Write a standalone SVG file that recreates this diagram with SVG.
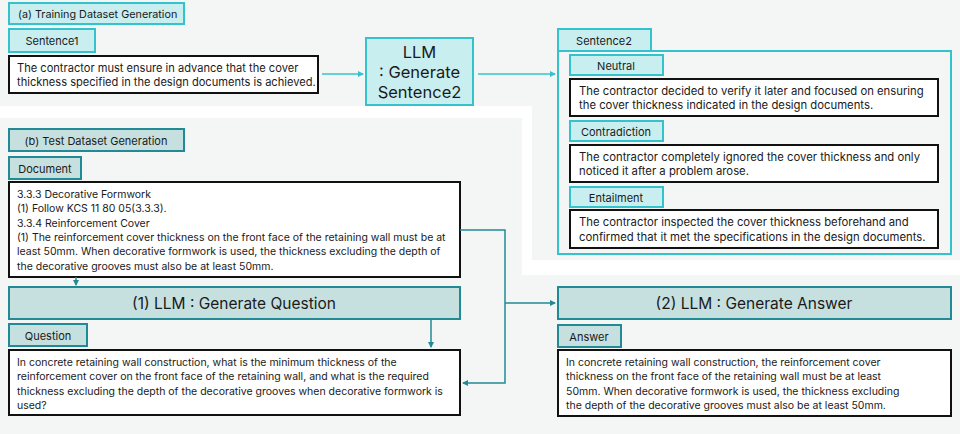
<svg xmlns="http://www.w3.org/2000/svg" width="960" height="434" viewBox="0 0 960 434">
<defs>
<marker id="ac" markerWidth="6" markerHeight="6" refX="5" refY="3" orient="auto" markerUnits="userSpaceOnUse"><path d="M0,0 L6,3 L0,6 z" fill="#34c3cc"/></marker>
<marker id="at" markerWidth="6" markerHeight="6" refX="5" refY="3" orient="auto" markerUnits="userSpaceOnUse"><path d="M0,0 L6,3 L0,6 z" fill="#228a94"/></marker>
</defs>
<style>
text{font-family:Inter,"Noto Sans",sans-serif;fill:#1a1a1a;font-size:11px}
.ca{fill:#c9eef0;stroke:#34c3cc;stroke-width:2}
.tb{fill:#c6e0e0;stroke:#228a94;stroke-width:2}
.wb{fill:#fff;stroke:#111;stroke-width:2}
.c{text-anchor:middle}
.big{font-size:16.5px}
.s1{font-size:11.1px}
.s2{font-size:11.3px}
.d{font-size:10.5px}
.h{font-size:15.5px}
</style>
<rect width="960" height="434" fill="#fff"/>
<path d="M0,0H960V260H532V106H0z" fill="#f4f5f5"/>
<path d="M0,118H522V275H960V434H0z" fill="#f4f5f5"/>
<g id="a-title"><rect class="ca" x="9" y="3" width="175" height="21"/><text x="18" y="18" style="font-size:10.8px">(a) Training Dataset Generation</text></g>
<g id="sentence1-label"><rect class="ca" x="9" y="29" width="86" height="23"/><text class="c" x="52" y="45">Sentence1</text></g>
<g id="sentence1"><rect class="wb" x="9" y="56" width="309" height="37"/><text class="s1" x="17" y="72">The contractor must ensure in advance that the cover</text><text class="s1" x="17" y="86">thickness specified in the design documents is achieved.</text></g>
<g id="llm"><rect class="ca" x="366" y="38" width="107" height="67"/><text class="c big" x="419.5" y="58">LLM</text><text class="c big" x="419.5" y="78">: Generate</text><text class="c big" x="419.5" y="98">Sentence2</text></g>
<g id="sentence2"><rect x="558" y="51" width="393" height="203" style="fill:none;stroke:#34c3cc;stroke-width:2"/><rect class="ca" x="558" y="29" width="93" height="22"/><text class="c" x="604" y="45">Sentence2</text>
<rect class="ca" x="570" y="55" width="93" height="20"/><text class="c" x="616" y="70">Neutral</text>
<rect class="wb" x="570" y="79" width="368" height="37"/><text class="s2" x="579" y="95">The contractor decided to verify it later and focused on ensuring</text><text class="s2" x="579" y="109">the cover thickness indicated in the design documents.</text>
<rect class="ca" x="570" y="121" width="93" height="20"/><text class="c" x="616" y="136">Contradiction</text>
<rect class="wb" x="570" y="145" width="368" height="37"/><text class="s2" x="579" y="161">The contractor completely ignored the cover thickness and only</text><text class="s2" x="579" y="175">noticed it after a problem arose.</text>
<rect class="ca" x="570" y="187" width="93" height="20"/><text class="c" x="616" y="202">Entailment</text>
<rect class="wb" x="570" y="210" width="368" height="38"/><text class="s2" x="579" y="226">The contractor inspected the cover thickness beforehand and</text><text class="s2" x="579" y="241">confirmed that it met the specifications in the design documents.</text></g>
<g id="b-title"><rect class="tb" x="9" y="129" width="175" height="22"/><text class="c" x="96" y="145">(b) Test Dataset Generation</text></g>
<g id="document-label"><rect class="tb" x="9" y="157" width="72" height="22"/><text class="c" x="45" y="173">Document</text></g>
<g id="document" class="d"><rect class="wb" x="9" y="182" width="451" height="95"/>
<text class="d" x="17" y="198">3.3.3 Decorative Formwork</text><text class="d" x="17" y="212">(1) Follow KCS 11 80 05(3.3.3).</text><text class="d" x="17" y="227">3.3.4 Reinforcement Cover</text><text class="d" x="17" y="241">(1) The reinforcement cover thickness on the front face of the retaining wall must be at</text><text class="d" x="17" y="255">least 50mm. When decorative formwork is used, the thickness excluding the depth of</text><text class="d" x="17" y="270">the decorative grooves must also be at least 50mm.</text></g>
<g id="gen-question"><rect class="tb" x="9" y="287" width="451" height="32"/><text class="c h" x="234" y="309">(1) LLM : Generate Question</text></g>
<g id="question-label"><rect class="tb" x="9" y="324" width="78" height="22"/><text class="c" x="48" y="340">Question</text></g>
<g id="question"><rect class="wb" x="9" y="350" width="451" height="65"/><text class="d" x="17" y="366">In concrete retaining wall construction, what is the minimum thickness of the</text><text class="d" x="17" y="380">reinforcement cover on the front face of the retaining wall, and what is the required</text><text class="d" x="17" y="395">thickness excluding the depth of the decorative grooves when decorative formwork is</text><text class="d" x="17" y="409">used?</text></g>
<g id="gen-answer"><rect class="tb" x="558" y="287" width="393" height="32"/><text class="c h" x="754" y="309">(2) LLM : Generate Answer</text></g>
<g id="answer-label"><rect class="tb" x="558" y="325" width="63" height="22"/><text class="c" x="589" y="341">Answer</text></g>
<g id="answer"><rect class="wb" x="558" y="350" width="393" height="66"/><text class="d" x="566" y="366">In concrete retaining wall construction, the reinforcement cover</text><text class="d" x="566" y="380">thickness on the front face of the retaining wall must be at least</text><text class="d" x="566" y="395">50mm. When decorative formwork is used, the thickness excluding</text><text class="d" x="566" y="409">the depth of the decorative grooves must also be at least 50mm.</text></g>
<g id="connectors" fill="none" stroke-width="1.5">
<path d="M322,74H363" stroke="#34c3cc" marker-end="url(#ac)"/>
<path d="M478,74H555" stroke="#34c3cc" marker-end="url(#ac)"/>
<path d="M76,277V285" stroke="#228a94" marker-end="url(#at)"/>
<path d="M431,319V347" stroke="#228a94" marker-end="url(#at)"/>
<path d="M460,230H505V383H463" stroke="#228a94" marker-end="url(#at)"/>
<path d="M505,303H555" stroke="#228a94" marker-end="url(#at)"/>
</g>
</svg>
